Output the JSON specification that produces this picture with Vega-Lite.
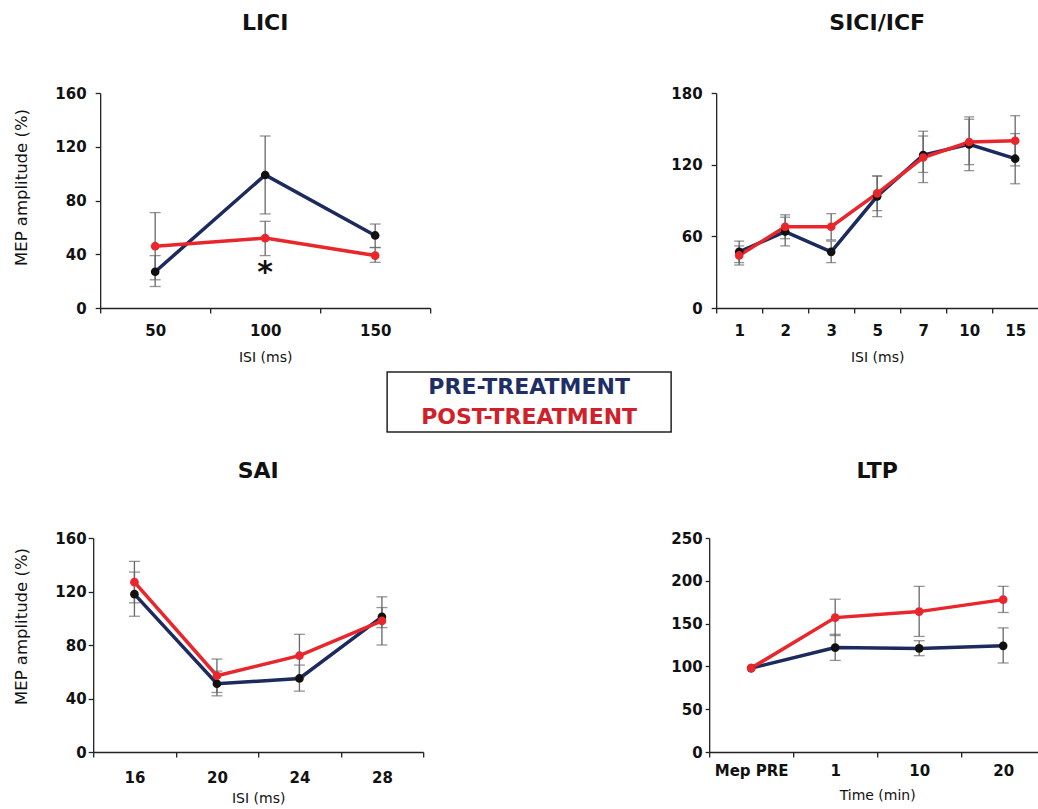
{
  "$schema": "https://vega.github.io/schema/vega-lite/v6.json",
  "background": "white",
  "padding": {"left": 13, "top": 12, "right": 0, "bottom": 0},
  "datasets": {
    "d": [
      {"panel": "LICI", "x": "50", "series": "pre", "mean": 27, "lo": 16, "hi": 39},
      {"panel": "LICI", "x": "100", "series": "pre", "mean": 99, "lo": 70, "hi": 128},
      {"panel": "LICI", "x": "150", "series": "pre", "mean": 54, "lo": 45, "hi": 62.5},
      {"panel": "LICI", "x": "50", "series": "post", "mean": 46, "lo": 21, "hi": 71},
      {"panel": "LICI", "x": "100", "series": "post", "mean": 52, "lo": 39, "hi": 64.5},
      {"panel": "LICI", "x": "150", "series": "post", "mean": 39, "lo": 34, "hi": 45},
      {"panel": "SICI", "x": "1", "series": "pre", "mean": 47, "lo": 38, "hi": 56},
      {"panel": "SICI", "x": "2", "series": "pre", "mean": 64, "lo": 52, "hi": 76},
      {"panel": "SICI", "x": "3", "series": "pre", "mean": 47, "lo": 38, "hi": 56},
      {"panel": "SICI", "x": "5", "series": "pre", "mean": 93.5, "lo": 76.5, "hi": 110.5},
      {"panel": "SICI", "x": "7", "series": "pre", "mean": 128, "lo": 105, "hi": 148},
      {"panel": "SICI", "x": "10", "series": "pre", "mean": 137, "lo": 115, "hi": 158},
      {"panel": "SICI", "x": "15", "series": "pre", "mean": 125, "lo": 104, "hi": 146},
      {"panel": "SICI", "x": "1", "series": "post", "mean": 44, "lo": 36, "hi": 52},
      {"panel": "SICI", "x": "2", "series": "post", "mean": 68, "lo": 58, "hi": 78},
      {"panel": "SICI", "x": "3", "series": "post", "mean": 68, "lo": 57, "hi": 79},
      {"panel": "SICI", "x": "5", "series": "post", "mean": 96, "lo": 81.5, "hi": 110.5},
      {"panel": "SICI", "x": "7", "series": "post", "mean": 126, "lo": 113.5, "hi": 144},
      {"panel": "SICI", "x": "10", "series": "post", "mean": 139, "lo": 120, "hi": 160},
      {"panel": "SICI", "x": "15", "series": "post", "mean": 140, "lo": 119, "hi": 161},
      {"panel": "SAI", "x": "16", "series": "pre", "mean": 118, "lo": 101.5, "hi": 134.5},
      {"panel": "SAI", "x": "20", "series": "pre", "mean": 51, "lo": 42, "hi": 60.5},
      {"panel": "SAI", "x": "24", "series": "pre", "mean": 55, "lo": 45.5, "hi": 65},
      {"panel": "SAI", "x": "28", "series": "pre", "mean": 101, "lo": 93, "hi": 108},
      {"panel": "SAI", "x": "16", "series": "post", "mean": 127, "lo": 111.5, "hi": 142.5},
      {"panel": "SAI", "x": "20", "series": "post", "mean": 57, "lo": 44.5, "hi": 69.5},
      {"panel": "SAI", "x": "24", "series": "post", "mean": 72, "lo": 56, "hi": 88},
      {"panel": "SAI", "x": "28", "series": "post", "mean": 98, "lo": 80, "hi": 116},
      {"panel": "LTP", "x": "Mep PRE", "series": "pre", "mean": 98, "lo": null, "hi": null},
      {"panel": "LTP", "x": "1", "series": "pre", "mean": 122, "lo": 107, "hi": 137.5},
      {"panel": "LTP", "x": "10", "series": "pre", "mean": 121, "lo": 112.5, "hi": 130},
      {"panel": "LTP", "x": "20", "series": "pre", "mean": 124, "lo": 104, "hi": 145},
      {"panel": "LTP", "x": "Mep PRE", "series": "post", "mean": 98, "lo": null, "hi": null},
      {"panel": "LTP", "x": "1", "series": "post", "mean": 157, "lo": 136, "hi": 178.5},
      {"panel": "LTP", "x": "10", "series": "post", "mean": 164, "lo": 135, "hi": 193.5},
      {"panel": "LTP", "x": "20", "series": "post", "mean": 178, "lo": 163, "hi": 193.5}
    ]
  },
  "config": {
    "view": {"stroke": null},
    "legend": {"disable": true},
    "axis": {
      "grid": false,
      "domainColor": "#222",
      "domainWidth": 1.3,
      "tickColor": "#222",
      "tickWidth": 1.3,
      "tickSize": 5,
      "labelFont": "DejaVu Sans",
      "labelFontWeight": "bold",
      "labelFontSize": 15,
      "labelColor": "#111",
      "titleFont": "DejaVu Sans",
      "titleFontWeight": "normal",
      "titleColor": "#111"
    },
    "title": {"font": "DejaVu Sans", "fontWeight": "bold", "fontSize": 22, "color": "#111"}
  },
  "vconcat": [
    {
      "hconcat": [
        {
          "width": 330, "height": 215,
          "title": {"text": "LICI", "offset": 51},
          "data": {"name": "d"},
          "transform": [{"filter": "datum.panel == 'LICI'"}],
          "encoding": {
            "x": {"field": "x", "type": "nominal", "sort": ["50", "100", "150"],
                  "scale": {"type": "band", "paddingInner": 0, "paddingOuter": 0},
                  "axis": {"tickBand": "extent", "labelAngle": 0, "labelPadding": 10, "title": "ISI (ms)", "titleFontSize": 14, "titlePadding": 12}},
            "y": {"type": "quantitative", "scale": {"domain": [0, 160]},
                  "axis": {"values": [0, 40, 80, 120, 160], "labelPadding": 9, "title": "MEP amplitude  (%)", "titleFontSize": 16.5, "titlePadding": 25, "titleY": 94}}
          },
          "layer": [
            {"transform": [{"filter": "datum.series == 'pre'"}], "mark": {"type": "line", "color": "#1c2a5e", "strokeWidth": 3.5}, "encoding": {"y": {"field": "mean", "type": "quantitative"}}},
            {"transform": [{"filter": "datum.series == 'post'"}], "mark": {"type": "line", "color": "#e8262b", "strokeWidth": 3.5}, "encoding": {"y": {"field": "mean", "type": "quantitative"}}},
            {"mark": {"type": "rule", "color": "#666", "strokeWidth": 1.3}, "encoding": {"y": {"field": "lo", "type": "quantitative"}, "y2": {"field": "hi"}}},
            {"mark": {"type": "tick", "color": "#666", "size": 11, "thickness": 1.3}, "encoding": {"y": {"field": "lo", "type": "quantitative"}}},
            {"mark": {"type": "tick", "color": "#666", "size": 11, "thickness": 1.3}, "encoding": {"y": {"field": "hi", "type": "quantitative"}}},
            {"transform": [{"filter": "datum.series == 'pre'"}], "mark": {"type": "point", "filled": true, "color": "#111", "size": 75, "opacity": 1}, "encoding": {"y": {"field": "mean", "type": "quantitative"}}},
            {"transform": [{"filter": "datum.series == 'post'"}], "mark": {"type": "point", "filled": true, "color": "#e8262b", "size": 75, "opacity": 1}, "encoding": {"y": {"field": "mean", "type": "quantitative"}}},
            {"transform": [{"filter": "datum.series == 'post' && datum.x == '100'"}], "mark": {"type": "text", "text": "*", "font": "DejaVu Sans", "fontWeight": "bold", "fontSize": 30, "color": "#111", "baseline": "middle"}, "encoding": {"y": {"datum": 26, "type": "quantitative"}}}
          ]
        },
        {
          "width": 322, "height": 215,
          "title": {"text": "SICI/ICF", "offset": 51},
          "data": {"name": "d"},
          "transform": [{"filter": "datum.panel == 'SICI'"}],
          "encoding": {
            "x": {"field": "x", "type": "nominal", "sort": ["1", "2", "3", "5", "7", "10", "15"],
                  "scale": {"type": "band", "paddingInner": 0, "paddingOuter": 0},
                  "axis": {"tickBand": "extent", "labelAngle": 0, "labelPadding": 10, "title": "ISI (ms)", "titleFontSize": 14, "titlePadding": 12}},
            "y": {"type": "quantitative", "scale": {"domain": [0, 180]},
                  "axis": {"values": [0, 60, 120, 180], "labelPadding": 9, "title": null}}
          },
          "layer": [
            {"transform": [{"filter": "datum.series == 'pre'"}], "mark": {"type": "line", "color": "#1c2a5e", "strokeWidth": 3.5}, "encoding": {"y": {"field": "mean", "type": "quantitative"}}},
            {"transform": [{"filter": "datum.series == 'post'"}], "mark": {"type": "line", "color": "#e8262b", "strokeWidth": 3.5}, "encoding": {"y": {"field": "mean", "type": "quantitative"}}},
            {"mark": {"type": "rule", "color": "#666", "strokeWidth": 1.3}, "encoding": {"y": {"field": "lo", "type": "quantitative"}, "y2": {"field": "hi"}}},
            {"mark": {"type": "tick", "color": "#666", "size": 10, "thickness": 1.3}, "encoding": {"y": {"field": "lo", "type": "quantitative"}}},
            {"mark": {"type": "tick", "color": "#666", "size": 10, "thickness": 1.3}, "encoding": {"y": {"field": "hi", "type": "quantitative"}}},
            {"transform": [{"filter": "datum.series == 'pre'"}], "mark": {"type": "point", "filled": true, "color": "#111", "size": 75, "opacity": 1}, "encoding": {"y": {"field": "mean", "type": "quantitative"}}},
            {"transform": [{"filter": "datum.series == 'post'"}], "mark": {"type": "point", "filled": true, "color": "#e8262b", "size": 75, "opacity": 1}, "encoding": {"y": {"field": "mean", "type": "quantitative"}}}
          ]
        }
      ],
      "spacing": 239
    },
    {
      "width": 284, "height": 60,
      "view": {"stroke": "#222", "strokeWidth": 1.5},
      "title": {"text": "_", "orient": "bottom", "fontSize": 10, "offset": 10, "color": "rgba(0,0,0,0)"},
      "data": {"values": [{"label": "PRE-TREATMENT", "series": "pre"}, {"label": "POST-TREATMENT", "series": "post"}]},
      "mark": {"type": "text", "font": "DejaVu Sans", "fontWeight": "bold", "fontSize": 22},
      "encoding": {
        "y": {"field": "series", "type": "nominal", "sort": ["pre", "post"],
              "axis": {"orient": "right", "labels": false, "domain": false, "ticks": true, "tickSize": 80, "tickOpacity": 0, "title": null}},
        "text": {"field": "label"},
        "color": {"field": "series", "type": "nominal", "scale": {"domain": ["pre", "post"], "range": ["#1f2f66", "#d0202a"]}, "legend": null}
      }
    },
    {
      "hconcat": [
        {
          "width": 330, "height": 214,
          "title": {"text": "SAI", "offset": 48},
          "data": {"name": "d"},
          "transform": [{"filter": "datum.panel == 'SAI'"}],
          "encoding": {
            "x": {"field": "x", "type": "nominal", "sort": ["16", "20", "24", "28"],
                  "scale": {"type": "band", "paddingInner": 0, "paddingOuter": 0},
                  "axis": {"tickBand": "extent", "labelAngle": 0, "labelPadding": 13, "title": "ISI (ms)", "titleFontSize": 14, "titlePadding": 6}},
            "y": {"type": "quantitative", "scale": {"domain": [0, 160]},
                  "axis": {"values": [0, 40, 80, 120, 160], "labelPadding": 2, "title": "MEP amplitude (%)", "titleFontSize": 16.5, "titlePadding": 25, "titleY": 88}}
          },
          "layer": [
            {"transform": [{"filter": "datum.series == 'pre'"}], "mark": {"type": "line", "color": "#1c2a5e", "strokeWidth": 3.5}, "encoding": {"y": {"field": "mean", "type": "quantitative"}}},
            {"transform": [{"filter": "datum.series == 'post'"}], "mark": {"type": "line", "color": "#e8262b", "strokeWidth": 3.5}, "encoding": {"y": {"field": "mean", "type": "quantitative"}}},
            {"mark": {"type": "rule", "color": "#666", "strokeWidth": 1.3}, "encoding": {"y": {"field": "lo", "type": "quantitative"}, "y2": {"field": "hi"}}},
            {"mark": {"type": "tick", "color": "#666", "size": 11, "thickness": 1.3}, "encoding": {"y": {"field": "lo", "type": "quantitative"}}},
            {"mark": {"type": "tick", "color": "#666", "size": 11, "thickness": 1.3}, "encoding": {"y": {"field": "hi", "type": "quantitative"}}},
            {"transform": [{"filter": "datum.series == 'pre'"}], "mark": {"type": "point", "filled": true, "color": "#111", "size": 75, "opacity": 1}, "encoding": {"y": {"field": "mean", "type": "quantitative"}}},
            {"transform": [{"filter": "datum.series == 'post'"}], "mark": {"type": "point", "filled": true, "color": "#e8262b", "size": 75, "opacity": 1}, "encoding": {"y": {"field": "mean", "type": "quantitative"}}}
          ]
        },
        {
          "width": 336, "height": 214,
          "title": {"text": "LTP", "offset": 48},
          "data": {"name": "d"},
          "transform": [{"filter": "datum.panel == 'LTP'"}],
          "encoding": {
            "x": {"field": "x", "type": "nominal", "sort": ["Mep PRE", "1", "10", "20"],
                  "scale": {"type": "band", "paddingInner": 0, "paddingOuter": 0},
                  "axis": {"tickBand": "extent", "labelAngle": 0, "labelPadding": 6, "title": "Time (min)", "titleFontSize": 14, "titlePadding": 10}},
            "y": {"type": "quantitative", "scale": {"domain": [0, 250]},
                  "axis": {"values": [0, 50, 100, 150, 200, 250], "labelPadding": 3, "tickSize": 4, "title": null}}
          },
          "layer": [
            {"transform": [{"filter": "datum.series == 'pre'"}], "mark": {"type": "line", "color": "#1c2a5e", "strokeWidth": 3.5}, "encoding": {"y": {"field": "mean", "type": "quantitative"}}},
            {"transform": [{"filter": "datum.series == 'post'"}], "mark": {"type": "line", "color": "#e8262b", "strokeWidth": 3.5}, "encoding": {"y": {"field": "mean", "type": "quantitative"}}},
            {"mark": {"type": "rule", "color": "#666", "strokeWidth": 1.3}, "encoding": {"y": {"field": "lo", "type": "quantitative"}, "y2": {"field": "hi"}}},
            {"mark": {"type": "tick", "color": "#666", "size": 11, "thickness": 1.3}, "encoding": {"y": {"field": "lo", "type": "quantitative"}}},
            {"mark": {"type": "tick", "color": "#666", "size": 11, "thickness": 1.3}, "encoding": {"y": {"field": "hi", "type": "quantitative"}}},
            {"transform": [{"filter": "datum.series == 'pre'"}], "mark": {"type": "point", "filled": true, "color": "#111", "size": 75, "opacity": 1}, "encoding": {"y": {"field": "mean", "type": "quantitative"}}},
            {"transform": [{"filter": "datum.series == 'post'"}], "mark": {"type": "point", "filled": true, "color": "#e8262b", "size": 75, "opacity": 1}, "encoding": {"y": {"field": "mean", "type": "quantitative"}}}
          ]
        }
      ],
      "spacing": 246
    }
  ],
  "spacing": 7,
  "center": true
}
